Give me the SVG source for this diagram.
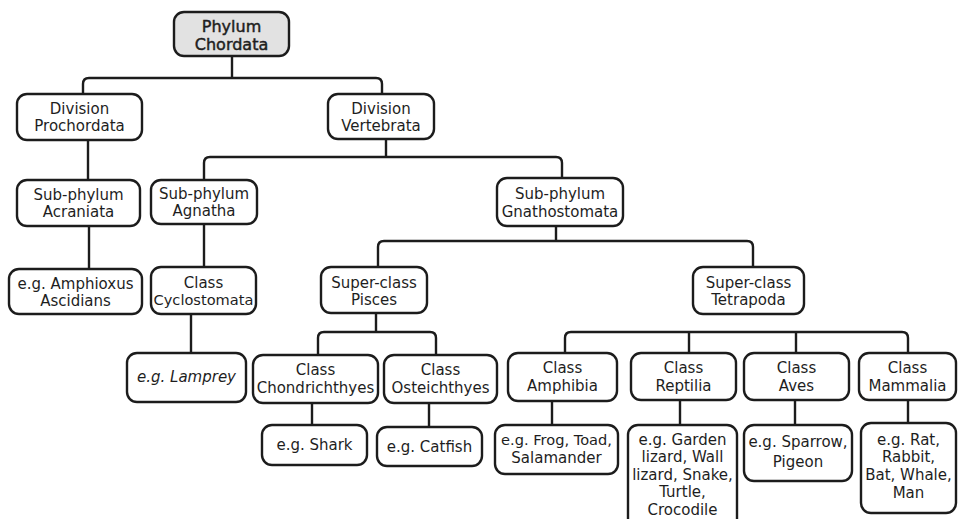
<svg xmlns="http://www.w3.org/2000/svg" width="959" height="519" viewBox="0 0 959 519">
  <style>
    .box { fill: #ffffff; stroke: #1c1c1c; stroke-width: 2.4; }
    .root { fill: #e2e2e2; }
    .lbl { font-family: "DejaVu Sans", "Liberation Sans", sans-serif; font-size: 15px; fill: #1e1e1e; text-anchor: middle; }
    .head { font-size: 16px; stroke: #1e1e1e; stroke-width: 0.45; }
    .conn { fill: none; stroke: #1c1c1c; stroke-width: 2.4; stroke-linejoin: round; }
  </style>
  <rect width="959" height="519" fill="#ffffff"/>

  <!-- connectors -->
  <g id="connectors" class="conn">
    <path d="M232,56 V78"/>
    <path d="M83,94 V84 Q83,78 89,78 H376 Q382,78 382,84 V94"/>
    <path d="M88,140 V180"/>
    <path d="M386,139 V157"/>
    <path d="M204,180 V163 Q204,157 210,157 H556 Q562,157 562,163 V178"/>
    <path d="M89,226 V269"/>
    <path d="M204,224 V267"/>
    <path d="M191,314 V353"/>
    <path d="M556,226 V241"/>
    <path d="M378,267 V247 Q378,241 384,241 H747 Q753,241 753,247 V267"/>
    <path d="M376,313 V332"/>
    <path d="M318,355 V338 Q318,332 324,332 H430 Q436,332 436,338 V355"/>
    <path d="M565,353 V338 Q565,332 571,332 H902 Q908,332 908,338 V353"/>
    <path d="M689,332 V353"/>
    <path d="M796,332 V353"/>
    <path d="M312,403 V425"/>
    <path d="M429,403 V427"/>
    <path d="M552,401 V425"/>
    <path d="M680,400 V425"/>
    <path d="M795,400 V425"/>
    <path d="M908,400 V423"/>
  </g>

  <!-- nodes -->
  <g id="phylum">
    <rect class="box root" x="174" y="12" width="115" height="44" rx="10"/>
    <text class="lbl head" x="231.5" y="32">Phylum</text>
    <text class="lbl head" x="231.5" y="50">Chordata</text>
  </g>
  <g id="prochordata">
    <rect class="box" x="17" y="94" width="125" height="46" rx="10"/>
    <text class="lbl" x="79.5" y="114">Division</text>
    <text class="lbl" x="79.5" y="131">Prochordata</text>
  </g>
  <g id="vertebrata">
    <rect class="box" x="328" y="94" width="106" height="45" rx="10"/>
    <text class="lbl" x="381" y="114">Division</text>
    <text class="lbl" x="381" y="131">Vertebrata</text>
  </g>
  <g id="acraniata">
    <rect class="box" x="17" y="180" width="123" height="46" rx="10"/>
    <text class="lbl" x="78.5" y="200">Sub-phylum</text>
    <text class="lbl" x="78.5" y="217">Acraniata</text>
  </g>
  <g id="agnatha">
    <rect class="box" x="151" y="180" width="106" height="44" rx="10"/>
    <text class="lbl" x="204" y="199">Sub-phylum</text>
    <text class="lbl" x="204" y="216">Agnatha</text>
  </g>
  <g id="gnathostomata">
    <rect class="box" x="497" y="178" width="126" height="48" rx="10"/>
    <text class="lbl" x="560" y="199">Sub-phylum</text>
    <text class="lbl" x="560" y="217">Gnathostomata</text>
  </g>
  <g id="amphioxus">
    <rect class="box" x="9" y="269" width="133" height="45" rx="10"/>
    <text class="lbl" x="75.5" y="289">e.g. Amphioxus</text>
    <text class="lbl" x="75.5" y="306">Ascidians</text>
  </g>
  <g id="cyclostomata">
    <rect class="box" x="151" y="267" width="105" height="47" rx="10"/>
    <text class="lbl" x="203.5" y="288">Class</text>
    <text class="lbl" x="203.5" y="305" style="font-size:14.6px">Cyclostomata</text>
  </g>
  <g id="pisces">
    <rect class="box" x="321" y="267" width="106" height="46" rx="10"/>
    <text class="lbl" x="374" y="288">Super-class</text>
    <text class="lbl" x="374" y="305">Pisces</text>
  </g>
  <g id="tetrapoda">
    <rect class="box" x="693" y="267" width="111" height="47" rx="10"/>
    <text class="lbl" x="748.5" y="288">Super-class</text>
    <text class="lbl" x="748.5" y="305">Tetrapoda</text>
  </g>
  <g id="lamprey">
    <rect class="box" x="127" y="353" width="119" height="49" rx="10"/>
    <text class="lbl" x="186.5" y="382" style="font-style:italic">e.g. Lamprey</text>
  </g>
  <g id="chondrichthyes">
    <rect class="box" x="253" y="355" width="125" height="48" rx="10"/>
    <text class="lbl" x="315.5" y="375">Class</text>
    <text class="lbl" x="315.5" y="393">Chondrichthyes</text>
  </g>
  <g id="osteichthyes">
    <rect class="box" x="384" y="355" width="113" height="48" rx="10"/>
    <text class="lbl" x="440.5" y="375">Class</text>
    <text class="lbl" x="440.5" y="393">Osteichthyes</text>
  </g>
  <g id="amphibia">
    <rect class="box" x="508" y="353" width="109" height="48" rx="10"/>
    <text class="lbl" x="562.5" y="373">Class</text>
    <text class="lbl" x="562.5" y="391">Amphibia</text>
  </g>
  <g id="reptilia">
    <rect class="box" x="631" y="353" width="105" height="47" rx="10"/>
    <text class="lbl" x="683.5" y="373">Class</text>
    <text class="lbl" x="683.5" y="391">Reptilia</text>
  </g>
  <g id="aves">
    <rect class="box" x="744" y="353" width="105" height="47" rx="10"/>
    <text class="lbl" x="796.5" y="373">Class</text>
    <text class="lbl" x="796.5" y="391">Aves</text>
  </g>
  <g id="mammalia">
    <rect class="box" x="859" y="353" width="97" height="47" rx="10"/>
    <text class="lbl" x="907.5" y="373">Class</text>
    <text class="lbl" x="907.5" y="391">Mammalia</text>
  </g>
  <g id="shark">
    <rect class="box" x="262" y="425" width="105" height="40" rx="10"/>
    <text class="lbl" x="314.5" y="450">e.g. Shark</text>
  </g>
  <g id="catfish">
    <rect class="box" x="377" y="427" width="105" height="39" rx="10"/>
    <text class="lbl" x="429.5" y="452">e.g. Catfish</text>
  </g>
  <g id="frog">
    <rect class="box" x="495" y="425" width="123" height="49" rx="10"/>
    <text class="lbl" x="556.5" y="445" style="font-size:14.6px">e.g. Frog, Toad,</text>
    <text class="lbl" x="556.5" y="463">Salamander</text>
  </g>
  <g id="reptiles">
    <rect class="box" x="628" y="425" width="109" height="110" rx="10"/>
    <text class="lbl" x="682.5" y="445">e.g. Garden</text>
    <text class="lbl" x="682.5" y="462">lizard, Wall</text>
    <text class="lbl" x="682.5" y="480">lizard, Snake,</text>
    <text class="lbl" x="682.5" y="497">Turtle,</text>
    <text class="lbl" x="682.5" y="515">Crocodile</text>
  </g>
  <g id="birds">
    <rect class="box" x="744" y="425" width="108" height="56" rx="10"/>
    <text class="lbl" x="798" y="447">e.g. Sparrow,</text>
    <text class="lbl" x="798" y="467">Pigeon</text>
  </g>
  <g id="mammals">
    <rect class="box" x="861" y="423" width="95" height="90" rx="10"/>
    <text class="lbl" x="908.5" y="445">e.g. Rat,</text>
    <text class="lbl" x="908.5" y="462">Rabbit,</text>
    <text class="lbl" x="908.5" y="480">Bat, Whale,</text>
    <text class="lbl" x="908.5" y="498">Man</text>
  </g>
</svg>
